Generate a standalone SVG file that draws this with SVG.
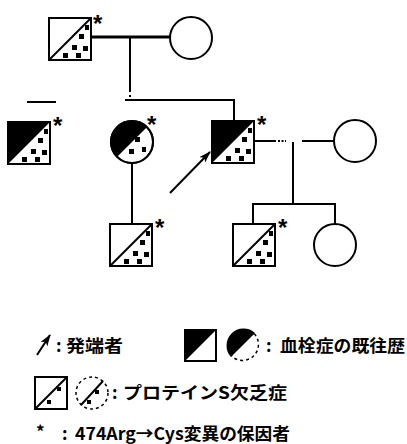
<svg xmlns="http://www.w3.org/2000/svg" width="407" height="444" viewBox="0 0 407 444">
<style>
.ln{stroke:#000;stroke-width:2;fill:none}
.thick{stroke:#000;stroke-width:3;fill:none}
.sym{stroke:#000;stroke-width:2;fill:#fff}
.blk{fill:#000;stroke:none}
.ast{font-family:"Liberation Sans",sans-serif;font-weight:bold;font-size:24px;fill:#000}
.jp{font-family:"Noto Sans CJK JP","Liberation Sans",sans-serif;font-weight:bold;font-size:17px;fill:#000}
.dash{stroke:#000;stroke-width:1.5;fill:none;stroke-dasharray:3 3}
</style>
<defs>
<marker id="ah" markerWidth="12" markerHeight="8" refX="11" refY="4" orient="auto" markerUnits="userSpaceOnUse">
<path d="M0,0 L12,4 L0,8 L3,4 Z" fill="#000"/>
</marker>
<g id="dotsSq">
<rect x="30" y="16" width="5" height="5"/>
<rect x="36" y="7" width="4" height="5"/>
<rect x="23" y="27" width="5" height="5"/>
<rect x="34" y="28" width="5" height="5"/>
<rect x="14" y="35" width="5" height="5"/>
<rect x="27" y="35" width="5" height="5"/>
</g>
<g id="sqA">
<rect class="sym" x="0" y="0" width="42" height="42"/>
<polygon class="blk" points="0,0 42,0 0,42"/>
<use href="#dotsSq"/>
<rect x="0" y="0" width="42" height="42" class="ln"/>
</g>
<g id="sqP">
<rect class="sym" x="0" y="0" width="42" height="42"/>
<line class="ln" x1="0" y1="42" x2="42" y2="0"/>
<use href="#dotsSq"/>
</g>
<g id="ciA">
<circle class="sym" cx="0" cy="0" r="21"/>
<path class="blk" d="M-14.85,14.85 A21,21 0 0 1 14.85,-14.85 Z"/>
<rect x="3" y="-5" width="5" height="5"/>
<rect x="-3" y="7" width="5" height="5"/>
<rect x="10" y="5" width="4" height="5"/>
</g>
</defs>

<g id="connectors">
<line class="thick" x1="91" y1="37" x2="170" y2="37"/>
<line class="ln" x1="130" y1="37" x2="130" y2="92"/>
<line class="ln" x1="130" y1="95" x2="130" y2="97"/>
<line class="ln" x1="125" y1="100" x2="235" y2="100"/>
<line class="ln" x1="234" y1="100" x2="234" y2="121"/>
<line class="ln" x1="27" y1="102" x2="56" y2="102"/>
<line class="ln" x1="132" y1="163" x2="132" y2="224"/>
<line class="ln" x1="254" y1="141" x2="276" y2="141"/>
<line class="ln" x1="278" y1="141" x2="286" y2="141" stroke-dasharray="2 1.5"/>
<line class="ln" x1="302" y1="141" x2="334" y2="141"/>
<line class="ln" x1="293" y1="142" x2="293" y2="204"/>
<line class="ln" x1="252" y1="204" x2="336" y2="204"/>
<line class="ln" x1="253" y1="204" x2="253" y2="224"/>
<line class="ln" x1="335" y1="204" x2="335" y2="224"/>
<line class="ln" x1="170" y1="193" x2="210" y2="152" marker-end="url(#ah)"/>
</g>

<g id="I-1"><use href="#sqP" x="49" y="18"/><rect class="ln" x="49" y="18" width="42" height="42"/><text class="ast" x="93" y="32">*</text></g>
<g id="I-2"><circle class="sym" cx="191" cy="38" r="21"/></g>
<g id="II-1"><use href="#sqA" x="8" y="122"/><text class="ast" x="53" y="134">*</text></g>
<g id="II-2"><use href="#ciA" x="132" y="142"/><circle class="ln" cx="132" cy="142" r="21"/><text class="ast" x="147" y="133">*</text></g>
<g id="II-3"><use href="#sqA" x="212" y="121"/><text class="ast" x="257" y="133">*</text></g>
<g id="II-4"><circle class="sym" cx="355" cy="141" r="21"/></g>
<g id="III-1"><use href="#sqP" x="110" y="224"/><rect class="ln" x="110" y="224" width="42" height="42"/><text class="ast" x="155" y="236">*</text></g>
<g id="III-2"><use href="#sqP" x="233" y="224"/><rect class="ln" x="233" y="224" width="42" height="42"/><text class="ast" x="278" y="236">*</text></g>
<g id="III-3"><circle class="sym" cx="335" cy="245" r="21"/></g>

<g id="legend">
<line class="ln" x1="37" y1="355" x2="50" y2="335" marker-end="url(#ah)"/>
<text class="jp" x="56" y="352">:</text>
<text class="jp" x="66" y="352" textLength="57" lengthAdjust="spacingAndGlyphs">発端者</text>
<rect class="sym" x="185" y="330" width="31" height="31"/>
<polygon class="blk" points="185,330 216,330 185,361"/>
<path class="blk" d="M231.7,356.3 A16,16 0 0 1 254.3,333.7 Z"/>
<path class="dash" d="M254.3,333.7 A16,16 0 0 1 231.7,356.3"/>
<path d="M231.7,356.3 A16,16 0 0 1 254.3,333.7" stroke="#000" stroke-width="2" fill="none"/>
<text class="jp" x="266" y="352">:</text>
<text class="jp" x="280" y="352" textLength="125" lengthAdjust="spacingAndGlyphs">血栓症の既往歴</text>

<rect class="sym" x="35" y="377" width="32" height="32"/>
<line class="ln" x1="35" y1="409" x2="67" y2="377"/>
<rect x="57" y="387" width="4" height="4"/>
<rect x="47" y="400" width="4" height="4"/>
<circle class="dash" cx="92" cy="393" r="16"/>
<line class="ln" x1="81" y1="405" x2="103" y2="381"/>
<rect x="95" y="390" width="4" height="4"/>
<rect x="87" y="400" width="4" height="4"/>
<text class="jp" x="112" y="399">:</text>
<text class="jp" x="123" y="399" textLength="164" lengthAdjust="spacingAndGlyphs">プロテインS欠乏症</text>

<text class="jp" x="36" y="438" font-size="20">*</text>
<text class="jp" x="62" y="440">:</text>
<text class="jp" x="75" y="440" textLength="215" lengthAdjust="spacingAndGlyphs">474Arg→Cys変異の保因者</text>
</g>
</svg>
